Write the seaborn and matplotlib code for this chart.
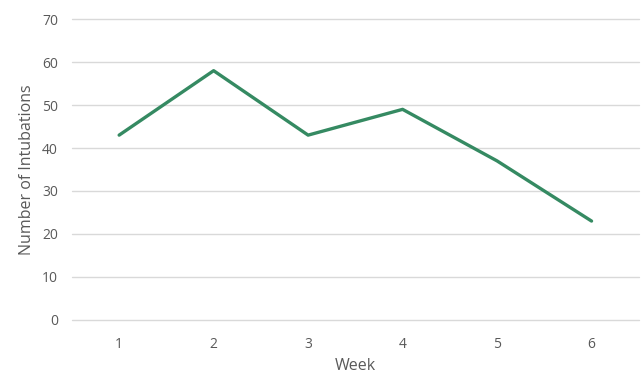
import matplotlib
matplotlib.use("Agg")
import matplotlib.pyplot as plt
import seaborn as sns
import pandas as pd

# data
weeks = [1, 2, 3, 4, 5, 6]
intubations = [43, 58, 43, 49, 37, 23]
y_ticks = [0, 10, 20, 30, 40, 50, 60, 70]

df = pd.DataFrame({"Week": weeks, "Number of Intubations": intubations})

sns.set_theme(style="white")
plt.rcParams['font.family'] = ['Open Sans', 'DejaVu Sans']

text_gray = "#595959"
fig = plt.figure(figsize=(6.42, 3.75), dpi=100)
ax = fig.add_axes([0.112, 0.147, 0.883, 0.802])

sns.lineplot(data=df, x="Week", y="Number of Intubations", ax=ax,
             color="#358a62", linewidth=2.4, zorder=3)

ax.set_xlim(0.5, 6.5)
ax.set_ylim(0, 70)
ax.set_yticks(y_ticks)
ax.set_xticks(weeks)
ax.yaxis.grid(True, color="#d9d9d9", linewidth=1)
ax.xaxis.grid(False)
for gl in ax.get_ygridlines():
    gl.set_clip_on(False)
for s in ax.spines.values():
    s.set_visible(False)
ax.tick_params(axis="both", length=0, labelsize=10, labelcolor=text_gray)
ax.tick_params(axis="x", pad=12)
ax.tick_params(axis="y", pad=10)
ax.set_xlabel("Week", fontsize=11.5, color=text_gray, labelpad=5)
ax.set_ylabel("Number of Intubations", fontsize=11.5, color=text_gray, labelpad=5)

fig.savefig("out.png", dpi=100)
